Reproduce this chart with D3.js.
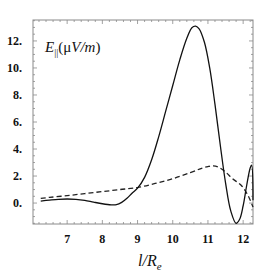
<!DOCTYPE html>
<html>
<head>
<meta charset="utf-8">
<script src="https://cdn.jsdelivr.net/npm/d3@7"></script>
<style>
  body { margin: 0; background: #fff; }
  svg { display: block; }
  .tl { font-family: "Liberation Serif", "Times New Roman", serif; font-weight: bold; font-size: 12px; fill: #111; }
  .lab { font-family: "Liberation Serif", "Times New Roman", serif; font-style: italic; fill: #111; }
</style>
</head>
<body>
<script>
'use strict';

// solid curve: E parallel
var solidX = [6.25, 6.5, 6.75, 7.0, 7.25, 7.5, 7.75, 8.0, 8.25, 8.4, 8.55, 8.7, 8.85, 9.0, 9.2, 9.4, 9.6, 9.8, 10.0, 10.2, 10.4, 10.55, 10.65, 10.75, 10.9, 11.05, 11.2, 11.35, 11.5, 11.65, 11.8, 11.9, 12.0, 12.1, 12.2, 12.24, 12.28];
var solidY = [0.15, 0.22, 0.28, 0.3, 0.28, 0.2, 0.07, -0.05, -0.13, -0.12, 0.05, 0.35, 0.75, 1.1, 1.9, 3.2, 4.9, 6.8, 8.7, 10.6, 12.2, 13.0, 13.1, 12.9, 11.9, 10.0, 7.3, 4.3, 1.5, -0.6, -1.5, -1.2, -0.2, 1.3, 2.6, 2.8, 0.2];

// dashed curve
var dashX = [6.25, 6.5, 7.0, 7.5, 8.0, 8.5, 9.0, 9.5, 10.0, 10.5, 10.8, 11.0, 11.15, 11.3, 11.5, 11.7, 11.95, 12.15, 12.28];
var dashY = [0.35, 0.42, 0.55, 0.7, 0.85, 1.0, 1.15, 1.45, 1.8, 2.25, 2.55, 2.7, 2.75, 2.65, 2.3, 1.8, 1.3, 0.5, -0.3];

var xTicks = [7, 8, 9, 10, 11, 12];
var yTicks = [0, 2, 4, 6, 8, 10, 12];

var W = 269, H = 273;
var pl = 33, pr = 253, pt = 20, pb = 224;

var x = d3.scaleLinear().domain([6.03, 12.28]).range([pl, pr]);
var y = d3.scaleLinear().domain([-1.55, 13.55]).range([pb, pt]);

var svg = d3.select('body').append('svg').attr('width', W).attr('height', H);

var frameColor = '#8a8a8a';

// frame
svg.append('rect')
  .attr('x', pl).attr('y', pt)
  .attr('width', pr - pl).attr('height', pb - pt)
  .attr('fill', 'none').attr('stroke', frameColor).attr('stroke-width', 1);

// ticks on all four sides, pointing in
function range(a, b, s) {
  var out = [];
  for (var v = a; v <= b + 1e-9; v += s) out.push(+v.toFixed(3));
  return out;
}
var xMinor = range(6.2, 12.2, 0.2).filter(function (v) { return xTicks.indexOf(v) < 0; });
var yMinor = range(-1.5, 13.5, 0.5).filter(function (v) { return yTicks.indexOf(v) < 0; });

var tk = svg.append('g').attr('stroke', frameColor).attr('stroke-width', 0.8);
xTicks.forEach(function (v) {
  tk.append('line').attr('x1', x(v)).attr('x2', x(v)).attr('y1', pb).attr('y2', pb - 4);
  tk.append('line').attr('x1', x(v)).attr('x2', x(v)).attr('y1', pt).attr('y2', pt + 4);
});
xMinor.forEach(function (v) {
  tk.append('line').attr('x1', x(v)).attr('x2', x(v)).attr('y1', pb).attr('y2', pb - 2);
  tk.append('line').attr('x1', x(v)).attr('x2', x(v)).attr('y1', pt).attr('y2', pt + 2);
});
yTicks.forEach(function (v) {
  tk.append('line').attr('x1', pl).attr('x2', pl + 4).attr('y1', y(v)).attr('y2', y(v));
  tk.append('line').attr('x1', pr).attr('x2', pr - 4).attr('y1', y(v)).attr('y2', y(v));
});
yMinor.forEach(function (v) {
  tk.append('line').attr('x1', pl).attr('x2', pl + 2).attr('y1', y(v)).attr('y2', y(v));
  tk.append('line').attr('x1', pr).attr('x2', pr - 2).attr('y1', y(v)).attr('y2', y(v));
});

// tick labels
svg.selectAll('.ylab').data(yTicks).enter().append('text')
  .attr('class', 'tl')
  .attr('x', 22).attr('y', function (d) { return y(d) + 4; })
  .attr('text-anchor', 'end')
  .text(function (d) { return d + '.'; });

svg.selectAll('.xlab').data(xTicks).enter().append('text')
  .attr('class', 'tl')
  .attr('x', function (d) { return x(d); }).attr('y', 243)
  .attr('text-anchor', 'middle')
  .text(function (d) { return d; });

// curves
var line = d3.line()
  .x(function (d) { return x(d[0]); })
  .y(function (d) { return y(d[1]); })
  .curve(d3.curveCatmullRom);

svg.append('path')
  .datum(dashX.map(function (v, i) { return [v, dashY[i]]; }))
  .attr('d', line)
  .attr('fill', 'none').attr('stroke', '#222').attr('stroke-width', 1.3)
  .attr('stroke-dasharray', '5,3');

svg.append('path')
  .datum(solidX.map(function (v, i) { return [v, solidY[i]]; }))
  .attr('d', line)
  .attr('fill', 'none').attr('stroke', '#111').attr('stroke-width', 1.3);

// labels
var el = svg.append('text').attr('class', 'lab').attr('x', 45).attr('y', 52).style('font-size', '15px');
el.append('tspan').text('E');
el.append('tspan').attr('dy', 4).style('font-size', '10px').style('font-style', 'normal').text('||');
el.append('tspan').attr('dy', -4).style('font-style', 'normal').text('(μ');
el.append('tspan').text('V/m');
el.append('tspan').style('font-style', 'normal').text(')');

var xl = svg.append('text').attr('class', 'lab').attr('x', 138).attr('y', 266).style('font-size', '16px');
xl.append('tspan').text('l/R');
xl.append('tspan').attr('dy', 4).style('font-size', '11px').text('e');
</script>
</body>
</html>
